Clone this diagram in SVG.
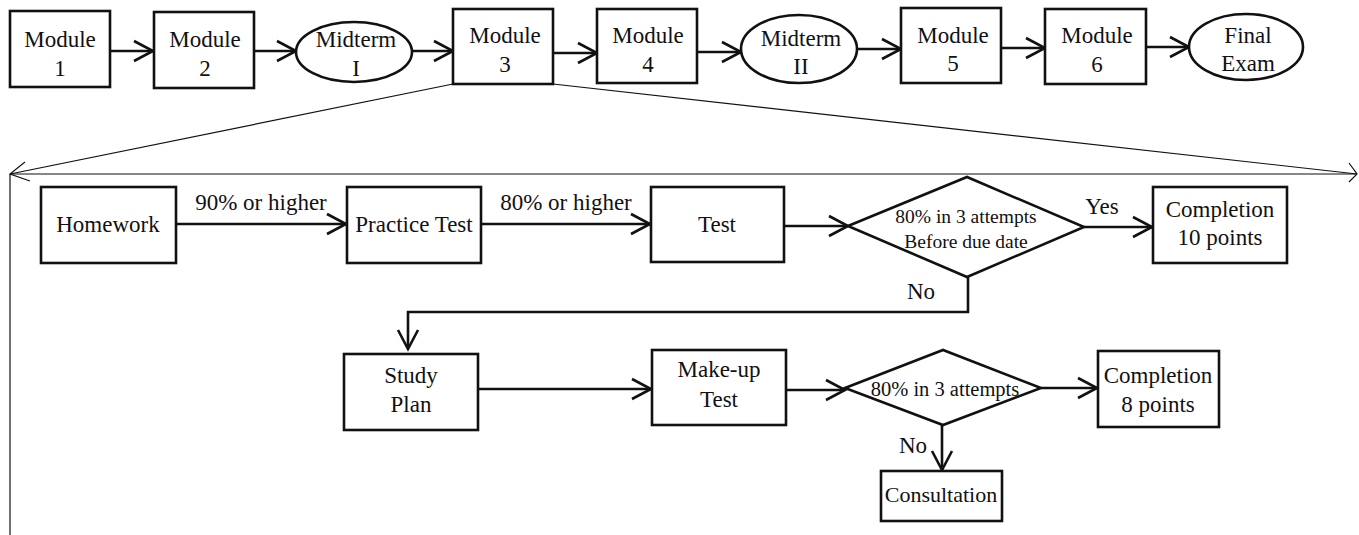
<svg xmlns="http://www.w3.org/2000/svg" width="1359" height="535" viewBox="0 0 1359 535">
<defs>
<style>
.box{fill:#fff;stroke:#111;stroke-width:2.6}
.t{font-family:"Liberation Serif","Times New Roman",serif;font-size:23px;fill:#111;text-anchor:middle}
.s{font-size:19.5px}
.c{fill:none;stroke:#111;stroke-width:2.6}
.thin{fill:none;stroke:#111;stroke-width:1.2}
</style>
<marker id="ah" markerUnits="userSpaceOnUse" markerWidth="30" markerHeight="30" viewBox="-25 -15 30 30" refX="0" refY="0" orient="auto">
<path d="M-19,-10 L0,0 L-19,10" fill="none" stroke="#111" stroke-width="2.6"/>
</marker>
</defs>
<rect width="1359" height="535" fill="#fff"/>

<g id="connectors">
<line class="c" x1="110" y1="51" x2="153" y2="51" marker-end="url(#ah)"/>
<line class="c" x1="254" y1="51" x2="296" y2="51" marker-end="url(#ah)"/>
<line class="c" x1="412" y1="51" x2="453" y2="51" marker-end="url(#ah)"/>
<line class="c" x1="553" y1="53" x2="597" y2="53" marker-end="url(#ah)"/>
<line class="c" x1="697" y1="52" x2="741" y2="52" marker-end="url(#ah)"/>
<line class="c" x1="857" y1="49" x2="901" y2="49" marker-end="url(#ah)"/>
<line class="c" x1="1001" y1="48" x2="1045" y2="48" marker-end="url(#ah)"/>
<line class="c" x1="1146" y1="47" x2="1189" y2="47" marker-end="url(#ah)"/>

<line class="thin" x1="453" y1="84" x2="10" y2="174"/>
<line class="thin" x1="553" y1="84" x2="1357" y2="174"/>
<line class="thin" x1="10" y1="174" x2="1357" y2="174"/>
<line class="thin" x1="10" y1="174" x2="10" y2="535"/>
<polyline class="thin" points="25,162 10,174 30,181"/>
<polyline class="thin" points="1349,163 1357,174 1349,182"/>

<line class="c" x1="176" y1="224" x2="346" y2="224" marker-end="url(#ah)"/>
<line class="c" x1="481" y1="224" x2="650" y2="224" marker-end="url(#ah)"/>
<line class="c" x1="784" y1="226" x2="848" y2="226" marker-end="url(#ah)"/>
<line class="c" x1="1084" y1="227" x2="1152" y2="227" marker-end="url(#ah)"/>
<polyline class="c" points="968,277 968,312 408,312 408,349" marker-end="url(#ah)"/>
<line class="c" x1="478" y1="389" x2="651" y2="389" marker-end="url(#ah)"/>
<line class="c" x1="786" y1="390" x2="845" y2="390" marker-end="url(#ah)"/>
<line class="c" x1="1041" y1="388" x2="1097" y2="388" marker-end="url(#ah)"/>
<line class="c" x1="942" y1="425" x2="942" y2="470" marker-end="url(#ah)"/>

<text class="t" x="261" y="210">90% or higher</text>
<text class="t" x="566" y="210">80% or higher</text>
<text class="t" x="1102" y="214">Yes</text>
<text class="t" x="921" y="299">No</text>
<text class="t" x="913" y="453">No</text>
</g>

<g id="module1"><rect class="box" x="10" y="11" width="100" height="76"/><text class="t" x="60" y="47">Module</text><text class="t" x="60" y="76">1</text></g>
<g id="module2"><rect class="box" x="154" y="12" width="100" height="76"/><text class="t" x="205" y="47">Module</text><text class="t" x="205" y="76">2</text></g>
<g id="midterm1"><ellipse class="box" cx="354" cy="52" rx="58" ry="30"/><text class="t" x="356" y="47">Midterm</text><text class="t" x="356" y="76">I</text></g>
<g id="module3"><rect class="box" x="453" y="9" width="100" height="75"/><text class="t" x="505" y="43">Module</text><text class="t" x="505" y="72">3</text></g>
<g id="module4"><rect class="box" x="597" y="9" width="100" height="74"/><text class="t" x="648" y="43">Module</text><text class="t" x="648" y="72">4</text></g>
<g id="midterm2"><ellipse class="box" cx="799" cy="49" rx="58" ry="34"/><text class="t" x="801" y="46">Midterm</text><text class="t" x="801" y="74">II</text></g>
<g id="module5"><rect class="box" x="901" y="8" width="100" height="75"/><text class="t" x="953" y="43">Module</text><text class="t" x="953" y="71">5</text></g>
<g id="module6"><rect class="box" x="1045" y="9" width="101" height="75"/><text class="t" x="1097" y="43">Module</text><text class="t" x="1097" y="72">6</text></g>
<g id="final"><ellipse class="box" cx="1246" cy="47" rx="57" ry="33"/><text class="t" x="1248" y="43">Final</text><text class="t" x="1248" y="71">Exam</text></g>

<g id="homework"><rect class="box" x="41" y="187" width="135" height="76"/><text class="t" x="108" y="232">Homework</text></g>
<g id="practice"><rect class="box" x="347" y="187" width="134" height="76"/><text class="t" x="414" y="232">Practice Test</text></g>
<g id="test"><rect class="box" x="651" y="187" width="133" height="75"/><text class="t" x="717" y="232">Test</text></g>
<g id="decision1"><polygon class="box" points="848,226 967,177 1084,227 967,277"/><text class="t s" x="966" y="223">80% in 3 attempts</text><text class="t s" x="966" y="248">Before due date</text></g>
<g id="completion10"><rect class="box" x="1153" y="187" width="134" height="76"/><text class="t" x="1220" y="217">Completion</text><text class="t" x="1220" y="245">10 points</text></g>

<g id="studyplan"><rect class="box" x="344" y="354" width="134" height="76"/><text class="t" x="411" y="383">Study</text><text class="t" x="411" y="412">Plan</text></g>
<g id="makeup"><rect class="box" x="652" y="350" width="134" height="75"/><text class="t" x="719" y="377">Make-up</text><text class="t" x="719" y="407">Test</text></g>
<g id="decision2"><polygon class="box" points="845,388 943,350 1041,388 943,425"/><text class="t" x="945" y="396" style="font-size:20.5px">80% in 3 attempts</text></g>
<g id="completion8"><rect class="box" x="1098" y="351" width="121" height="76"/><text class="t" x="1158" y="383">Completion</text><text class="t" x="1158" y="412">8 points</text></g>
<g id="consultation"><rect class="box" x="881" y="471" width="121" height="50"/><text class="t" x="941" y="502" style="font-size:22px">Consultation</text></g>
</svg>
